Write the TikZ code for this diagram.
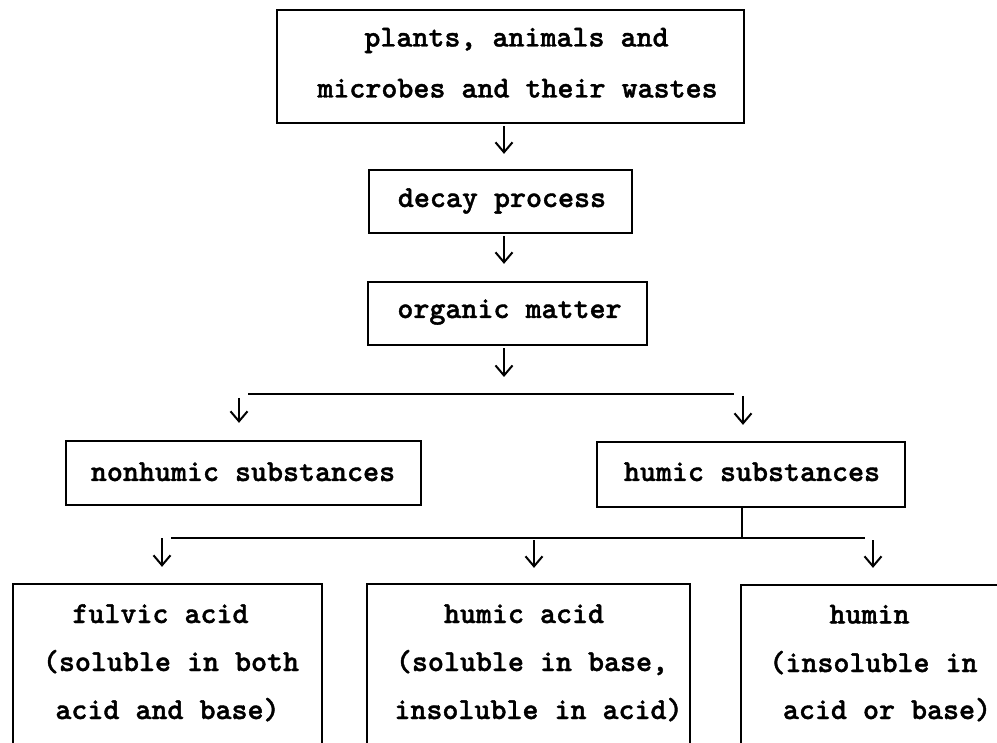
\documentclass[tikz,border=0pt]{standalone}
\usepackage{fontspec}
\usetikzlibrary{arrows.meta,calc}
\newfontfamily\twfam{lmmonolt10-bold.otf}[FakeBold=1.3]
\newcommand\twfont{\twfam\fontsize{30.5}{36}\selectfont}
\tikzset{
  box/.style={draw, line width=2.3pt, inner sep=0pt},
  txt/.style={font=\twfont, anchor=base, inner sep=0pt},
  conn/.style={line width=2pt},
  arr/.style={conn, -{Straight Barb[length=10pt,width=17pt]}}
}
\begin{document}
\begin{tikzpicture}[x=1pt,y=-1pt]
\useasboundingbox (0,0) rectangle (997,743);
\clip (0,0) rectangle (997,743);
% boxes
\node[box, minimum width=467pt, minimum height=113pt] (top) at (510.5,66.5) {};
\node[box, minimum width=263pt, minimum height=63pt] (decay) at (500.5,201.5) {};
\node[box, minimum width=279pt, minimum height=63pt] (organic) at (507.5,313.5) {};
\node[box, minimum width=355pt, minimum height=64pt] (nonhumic) at (243.5,473) {};
\node[box, minimum width=308pt, minimum height=65pt] (humic) at (751,474.5) {};
\node[box, minimum width=309pt, minimum height=216pt] (fulvic) at (167.5,692) {};
\node[box, minimum width=323pt, minimum height=216pt] (humicacid) at (528.5,692) {};
\node[box, minimum width=309pt, minimum height=215pt] (humin) at (895.5,692.5) {};
% texts
\node[txt] (t1a) at (516.5,46.5) {plants, animals and};
\node[txt] (t1b) at (517.5,97.5) {microbes and their wastes};
\node[txt] (t2) at (502,207) {decay process};
\node[txt] (t3) at (509.5,318) {organic matter};
\node[txt] (t4) at (243,481) {nonhumic substances};
\node[txt] (t5) at (752,481) {humic substances};
\node[txt] (t6a) at (160.5,623) {fulvic acid};
\node[txt] (t6b) at (171,671) {(soluble in both};
\node[txt] (t6c) at (167.5,719) {acid and base)};
\node[txt] (t7a) at (524,623) {humic acid};
\node[txt] (t7b) at (532,671) {(soluble in base,};
\node[txt] (t7c) at (538.5,719) {insoluble in acid)};
\node[txt] (t8a) at (869.5,623.5) {humin};
\node[txt] (t8b) at (873.5,672) {(insoluble in};
\node[txt] (t8c) at (887,719) {acid or base)};
% connector coordinates
\coordinate (ax) at (504,0);
\coordinate (bx1) at (239,0);
\coordinate (bx2) at (743,0);
\coordinate (cx1) at (162,0);
\coordinate (cx2) at (534,0);
\coordinate (cx3) at (873,0);
\coordinate (s1l) at (248,394);
\coordinate (s1r) at (734,394);
\coordinate (s2v) at (742,538);
\coordinate (s2l) at (171,538);
\coordinate (s2r) at (865,538);
% connectors
\draw[arr] ($(top.south -| ax)+(0,2)$) -- ($(decay.north -| ax)+(0,-15)$);
\draw[arr] ($(decay.south -| ax)+(0,2)$) -- ($(organic.north -| ax)+(0,-17)$);
\draw[arr] ($(organic.south -| ax)+(0,2)$) -- ($(s1l -| ax)+(0,-17)$);
\draw[conn] (s1l) -- (s1r);
\draw[arr] ($(s1l -| bx1)+(0,4)$) -- ($(nonhumic.north -| bx1)+(0,-17)$);
\draw[arr] ($(s1r -| bx2)+(0,2)$) -- ($(humic.north -| bx2)+(0,-16)$);
\draw[conn] (humic.south -| s2v) -- (s2v);
\draw[conn] (s2l) -- (s2r);
\draw[arr] ($(s2l -| cx1)+(0,0)$) -- ($(fulvic.north -| cx1)+(0,-16)$);
\draw[arr] ($(s2l -| cx2)+(0,2)$) -- ($(humicacid.north -| cx2)+(0,-15)$);
\draw[arr] ($(s2r -| cx3)+(0,2)$) -- ($(humin.north -| cx3)+(0,-16)$);
\end{tikzpicture}
\end{document}
